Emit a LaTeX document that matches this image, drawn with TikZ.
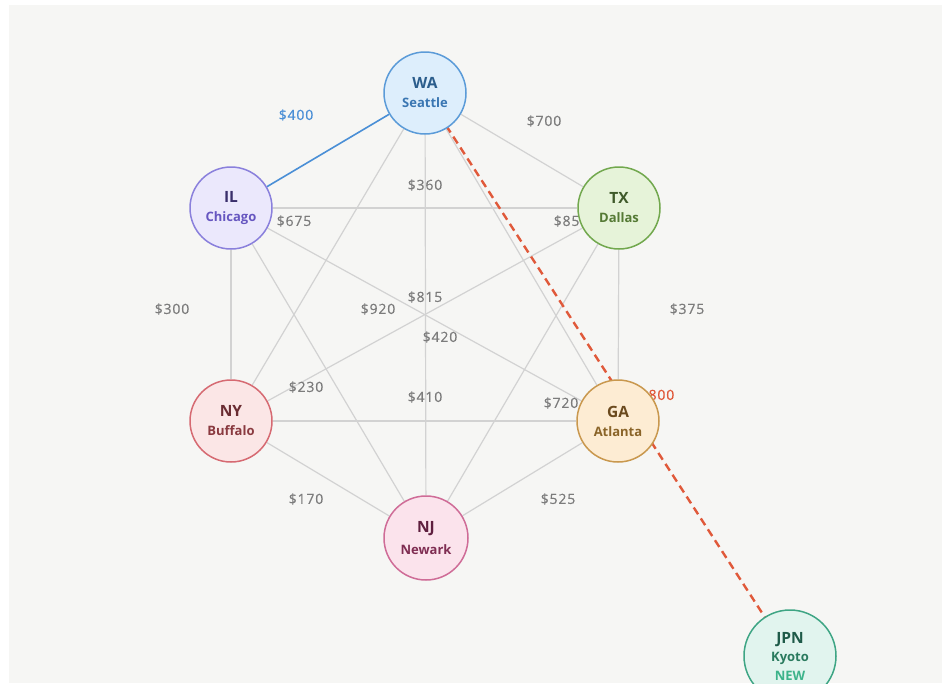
\documentclass[tikz,border=0pt]{standalone}
\usepackage{fontspec}
\setmainfont{Open Sans}
\newfontfamily\lblfont[LetterSpace=6, FakeBold=0.4]{Open Sans}
\pgfdeclarelayer{bg}
\pgfsetlayers{bg,main}
\definecolor{paper}{HTML}{F6F6F4}
\definecolor{edgegray}{HTML}{D2D2D2}
\definecolor{lblgray}{HTML}{7C7C7C}
\definecolor{blueline}{HTML}{4A8FD6}
\definecolor{redline}{HTML}{E0593A}
\definecolor{waF}{HTML}{DDEEFC}\definecolor{waD}{HTML}{5B9BD8}\definecolor{waH}{HTML}{2B5D8C}\definecolor{waC}{HTML}{3A76B2}
\definecolor{ilF}{HTML}{EBE8FC}\definecolor{ilD}{HTML}{8A80DC}\definecolor{ilH}{HTML}{3A2F6B}\definecolor{ilC}{HTML}{6656C0}
\definecolor{txF}{HTML}{E6F3D9}\definecolor{txD}{HTML}{72A84E}\definecolor{txH}{HTML}{3F5A2A}\definecolor{txC}{HTML}{557A35}
\definecolor{nyF}{HTML}{FBE6E6}\definecolor{nyD}{HTML}{D66A72}\definecolor{nyH}{HTML}{6A2C32}\definecolor{nyC}{HTML}{8A3A40}
\definecolor{gaF}{HTML}{FDECD3}\definecolor{gaD}{HTML}{C9984E}\definecolor{gaH}{HTML}{6B4A1E}\definecolor{gaC}{HTML}{8A6428}
\definecolor{njF}{HTML}{FBE3EC}\definecolor{njD}{HTML}{CF6C97}\definecolor{njH}{HTML}{5E1F3E}\definecolor{njC}{HTML}{7F2D52}
\definecolor{jpF}{HTML}{E1F4EE}\definecolor{jpD}{HTML}{3EA584}\definecolor{jpH}{HTML}{1E5A48}\definecolor{jpC}{HTML}{2A7A5E}\definecolor{jpN}{HTML}{3CB38A}
\tikzset{
  city/.style={circle, minimum size=82pt, inner sep=0pt, line width=1.5pt, align=center},
  road/.style={draw=edgegray, line width=1.2pt},
  lbl/.style={font=\lblfont\fontsize{14}{16}\selectfont, text=lblgray, inner sep=0pt},
}
\newcommand{\hd}[2]{{\fontsize{15.5}{17}\selectfont\bfseries\color{#1}#2}}
\newcommand{\ct}[2]{{\fontsize{13}{14}\selectfont\bfseries\color{#1}#2}}
\begin{document}
\begin{tikzpicture}[x=1pt,y=-1pt]
\useasboundingbox (0,0) rectangle (942,683);

\node[city, fill=waF, draw=waD] (WA) at (425,93) {\hd{waH}{WA}\\[7pt]\ct{waC}{Seattle}};
\node[city, fill=ilF, draw=ilD] (IL) at (231,208) {\hd{ilH}{IL}\\[7pt]\ct{ilC}{Chicago}};
\node[city, fill=txF, draw=txD] (TX) at (619,208) {\hd{txH}{TX}\\[7pt]\ct{txC}{Dallas}};
\node[city, fill=nyF, draw=nyD] (NY) at (231,421) {\hd{nyH}{NY}\\[7pt]\ct{nyC}{Buffalo}};
\node[city, fill=gaF, draw=gaD] (GA) at (618,421) {\hd{gaH}{GA}\\[7pt]\ct{gaC}{Atlanta}};
\node[city, fill=njF, draw=njD, minimum size=84pt] (NJ) at (426,538) {\hd{njH}{NJ}\\[7pt]\ct{njC}{Newark}};
\node[city, fill=jpF, draw=jpD, minimum size=92pt] (JPN) at (790,656) {\hd{jpH}{JPN}\\[5pt]\ct{jpC}{Kyoto}\\[5pt]\ct{jpN}{NEW}};

\begin{pgfonlayer}{bg}
\fill[white] (0,0) rectangle (942,683);
\fill[paper] (9,5) rectangle (942,683);
\draw[blueline, line width=1.6pt] (WA) -- (IL);
\draw[road] (WA) -- (TX);
\draw[road] (WA) -- (NY);
\draw[road] (WA) -- (NJ);
\draw[road] (WA) -- (GA);
\draw[road] (IL) -- (TX);
\draw[road] (IL) -- (NY);
\draw[road] (IL) -- (NJ);
\draw[road] (IL) -- (GA);
\draw[road] (TX) -- (NY);
\draw[road] (TX) -- (NJ);
\draw[road] (TX) -- (GA);
\draw[road] (NY) -- (GA);
\draw[road] (NY) -- (NJ);
\draw[road] (GA) -- (NJ);
\draw[redline, line width=2.4pt, dash pattern=on 8pt off 5pt] (WA.center) -- (JPN.center);

\node[lbl, text=blueline] (l1) at (296,115) {\$400};
\node[lbl] (l2) at (544,121) {\$700};
\node[lbl] (l3) at (425,185) {\$360};
\node[lbl] (l4) at (294,221) {\$675};
\node[lbl] (l5) at (571,221) {\$850};
\node[lbl] (l6) at (172,309) {\$300};
\node[lbl] (l7) at (378,309) {\$920};
\node[lbl] (l8) at (425,297) {\$815};
\node[lbl] (l9) at (440,337) {\$420};
\node[lbl] (l10) at (687,309) {\$375};
\node[lbl] (l11) at (306,387) {\$230};
\node[lbl] (l12) at (425,397) {\$410};
\node[lbl] (l13) at (561,403) {\$720};
\node[lbl, text=redline] (l14) at (657,395) {\$800};
\node[lbl] (l15) at (306,499) {\$170};
\node[lbl] (l16) at (558,499) {\$525};
\end{pgfonlayer}
\end{tikzpicture}
\end{document}
